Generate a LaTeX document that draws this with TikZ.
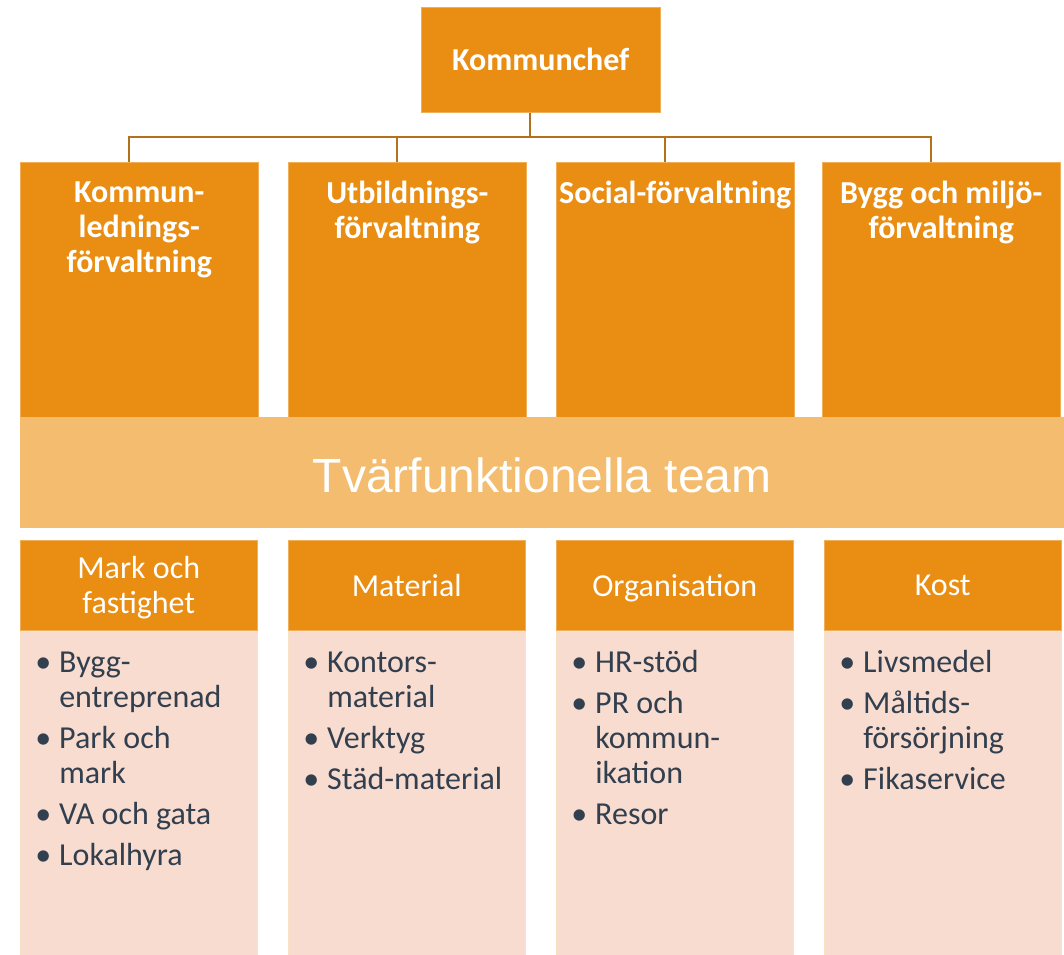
\documentclass[tikz,border=0pt]{standalone}
\usepackage{fontspec}
\setmainfont{Carlito}
\newfontfamily\arialfont{Liberation Sans}
\usetikzlibrary{positioning}
\definecolor{kOrange}{HTML}{E98E13}
\definecolor{kBand}{HTML}{F3BC6E}
\definecolor{kPale}{HTML}{F8DCCF}
\definecolor{kLine}{HTML}{B3711C}
\definecolor{kText}{HTML}{323F4F}
\newcommand\pkt{\makebox[18pt][l]{\textbullet}}
\newcommand\fort{\hspace*{18pt}}
\newcommand\nodp[1]{\raisebox{0pt}[\height][0pt]{#1}}
\tikzset{
    conn/.style={draw=kLine, line width=1.75pt},
    orgbox/.style={draw=kOrange!70!white, line width=0.4pt, fill=kOrange, rectangle, anchor=north west, inner sep=0pt, text=white, align=center},
    chefbox/.style={orgbox, minimum width=179.25pt, minimum height=78.75pt, font=\fontsize{24}{26.25}\selectfont\bfseries},
    forvbox/.style={orgbox, minimum width=178.5pt, minimum height=191.25pt},
    forvtext/.style={text=white, align=center, inner sep=0pt, font=\fontsize{24}{26.25}\selectfont\bfseries},
    teamband/.style={fill=kBand, anchor=north west, minimum width=783pt, minimum height=83.25pt, inner sep=0pt, text height=29.25pt, text depth=0pt, text=white, font=\arialfont\fontsize{36}{43}\selectfont},
    grphead/.style={orgbox, minimum width=177.75pt, minimum height=67.5pt, font=\fontsize{24}{26.25}\selectfont},
    grplist/.style={fill=kPale, draw=kOrange!25!white, line width=0.4pt, minimum width=177.75pt, minimum height=243.75pt, inner sep=0pt},
    listtext/.style={text=kText, align=left, anchor=north west, inner sep=0pt, font=\fontsize{24}{26.25}\selectfont}
}
\begin{document}
\begin{tikzpicture}[x=0.75pt, y=-0.75pt]
    \useasboundingbox (0,0) rectangle (1064,955);

    \node (chef) [chefbox] at (421,7) {Kommunchef};

    % förvaltningar
    \node (kl) [forvbox] at (20,162) {};
    \node (ub) [forvbox] at (288,162) {};
    \node (so) [forvbox] at (556,162) {};
    \node (bm) [forvbox] at (822,162) {};
    \node (klt) [forvtext, below=14.25pt of kl.north] {Kommun-\\lednings-\\förvaltning};
    \node (ubt) [forvtext, below=14.25pt of ub.north] {Utbildnings-\\förvaltning};
    \node (sot) [forvtext, below=14.25pt of so.north] {Social-förvaltning};
    \node (bmt) [forvtext, below=14.25pt of bm.north] {Bygg och miljö-\\förvaltning};

    \coordinate (bus) at (530,137);
    \draw [conn] (bus) -- (bus |- chef.south);
    \foreach \n in {kl,ub,so,bm}
        \draw [conn] (bus) -| ([xshift=-7.5pt]\n.north);

    \node (team) [teamband] at (20,417) {Tvärfunktionella team};

    % grupper
    \node (mark) [grphead] at (20,540) {Mark och\\\nodp{fastighet}};
    \node (mat) [grphead] at (288,540) {Material};
    \node (org) [grphead] at (556,540) {\nodp{Organisation}};
    \node (kost) [grphead] at (824,540) {Kost};
    \node (markl) [grplist, below=0pt of mark] {};
    \node (matl) [grplist, below=0pt of mat] {};
    \node (orgl) [grplist, below=0pt of org] {};
    \node (kostl) [grplist, below=0pt of kost] {};

    \node (markt) [listtext] at ([xshift=11.25pt, yshift=-13.1pt]markl.north west)
        {\strut\pkt Bygg-\\\fort entreprenad\\[4.5pt]\pkt Park och\\\fort mark\\[4.5pt]\pkt VA och gata\\[4.5pt]\pkt Lokalhyra};
    \node (matt) [listtext] at ([xshift=11.25pt, yshift=-13.1pt]matl.north west)
        {\strut\pkt Kontors-\\\fort material\\[4.5pt]\pkt Verktyg\\[4.5pt]\pkt Städ-material};
    \node (orgt) [listtext] at ([xshift=11.25pt, yshift=-13.1pt]orgl.north west)
        {\strut\pkt HR-stöd\\[4.5pt]\pkt PR och\\\fort kommun-\\\fort ikation\\[4.5pt]\pkt Resor};
    \node (kostt) [listtext] at ([xshift=11.25pt, yshift=-13.1pt]kostl.north west)
        {\strut\pkt Livsmedel\\[4.5pt]\pkt Måltids-\\\fort försörjning\\[4.5pt]\pkt Fikaservice};
\end{tikzpicture}
\end{document}
